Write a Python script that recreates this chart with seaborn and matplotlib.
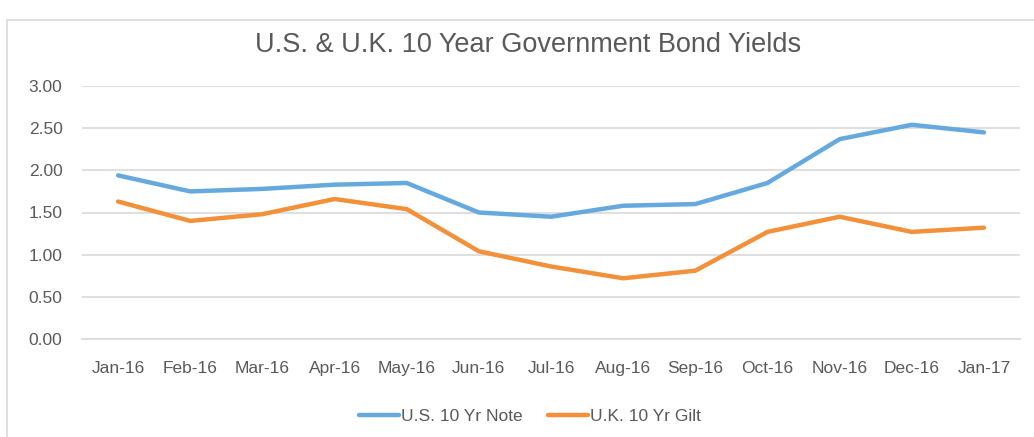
import matplotlib
matplotlib.use("Agg")
import matplotlib.pyplot as plt
from matplotlib.patches import Rectangle
from matplotlib.lines import Line2D
import seaborn as sns
import numpy as np
import pandas as pd

months = ["Jan-16", "Feb-16", "Mar-16", "Apr-16", "May-16", "Jun-16", "Jul-16",
          "Aug-16", "Sep-16", "Oct-16", "Nov-16", "Dec-16", "Jan-17"]
us_note = [1.94, 1.75, 1.78, 1.83, 1.85, 1.50, 1.45, 1.58, 1.60, 1.85, 2.37, 2.54, 2.45]
uk_gilt = [1.63, 1.40, 1.48, 1.66, 1.54, 1.04, 0.86, 0.72, 0.81, 1.27, 1.45, 1.27, 1.32]
series_names = ["U.S. 10 Yr Note", "U.K. 10 Yr Gilt"]
yticks = [0.0, 0.5, 1.0, 1.5, 2.0, 2.5, 3.0]

df = pd.DataFrame({
    "idx": list(range(len(months))) * 2,
    "value": us_note + uk_gilt,
    "series": [series_names[0]] * len(months) + [series_names[1]] * len(months),
})

sns.set_style("white")
plt.rcParams['font.family'] = ['Liberation Sans', 'DejaVu Sans']
txt = "#595959"
grid = "#D9D9D9"
fs = 12.5

fig = plt.figure(figsize=(10.34, 4.37), dpi=100)
fig.patches.append(Rectangle((7/1034, -0.01), 1.05, 1 - 20/437 + 0.01, transform=fig.transFigure,
                             facecolor="white", edgecolor="#D9D9D9", linewidth=1.2, zorder=-1))
ax = fig.add_axes([82/1034, 1 - 339/437, (1020 - 82)/1034, (339 - 86)/437])
ax.set_facecolor("none")

palette = {series_names[0]: "#65A9DE", series_names[1]: "#F3913A"}
sns.lineplot(data=df, x="idx", y="value", hue="series", palette=palette, ax=ax,
             linewidth=3.2, legend=False, solid_capstyle="round")

ax.set_xlim(-0.5, len(months) - 0.5)
ax.set_ylim(0, 3.0)
ax.set_yticks(yticks)
ax.set_yticklabels([f"{v:.2f}" for v in yticks], color=txt, fontsize=fs)
ax.set_xticks(range(len(months)))
ax.set_xticklabels(months, color=txt, fontsize=fs)
ax.set_xticks(np.arange(-0.5, len(months), 1.0), minor=True)
ax.tick_params(axis="x", which="major", length=0, pad=16)
ax.tick_params(axis="x", which="minor", length=6, color=grid, width=1.2)
ax.tick_params(axis="y", length=0, pad=14)
ax.grid(axis="y", color=grid, linewidth=1.2)
ax.set_axisbelow(True)
for s in ["top", "right", "left"]:
    ax.spines[s].set_visible(False)
ax.spines["bottom"].set_color(grid)
ax.spines["bottom"].set_linewidth(1.2)
ax.set_xlabel("")
ax.set_ylabel("")

fig.text(528/1034, 1 - 45/437, "U.S. & U.K. 10 Year Government Bond Yields",
         ha="center", va="center", fontsize=19.5, color=txt)

handles = [Line2D([0], [0], color=palette[n], linewidth=3.2) for n in series_names]
fig.legend(handles, series_names, loc="center", bbox_to_anchor=(530/1034, 1 - 416/437),
           ncol=2, frameon=False, fontsize=fs, labelcolor=txt, handlelength=2.3,
           handletextpad=0.1, columnspacing=1.5)

fig.savefig("out.png", dpi=100)
